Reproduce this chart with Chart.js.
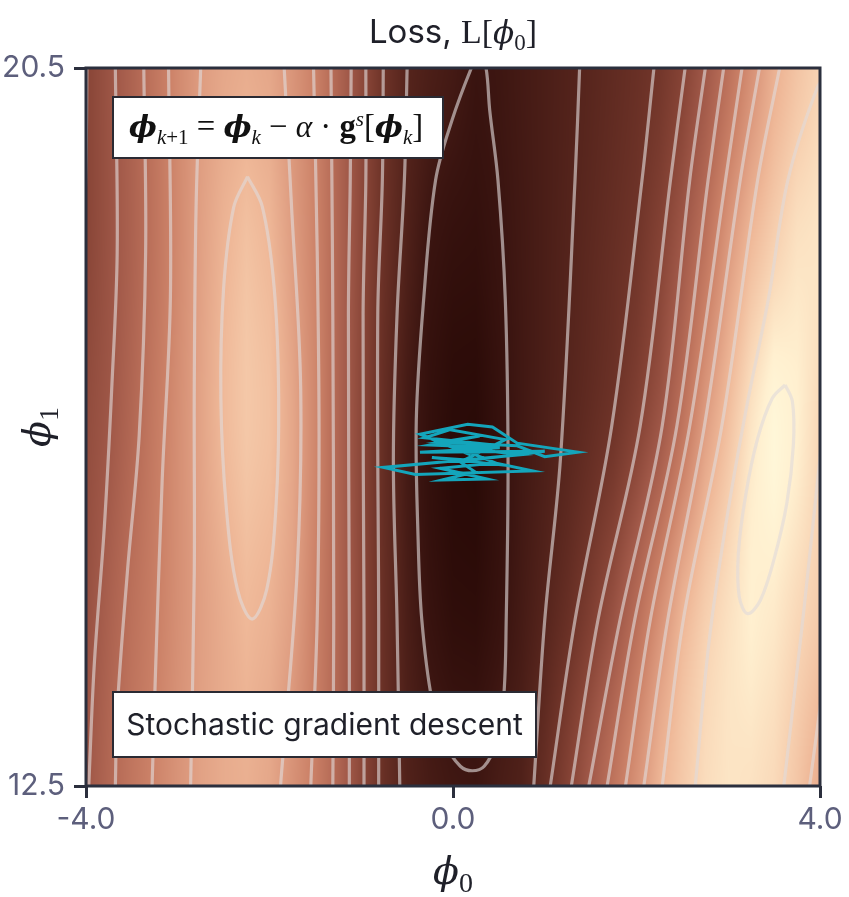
<!DOCTYPE html>
<html><head><meta charset="utf-8">
<script src="https://cdn.jsdelivr.net/npm/chart.js@4.4.1/dist/chart.umd.min.js"></script>
<style>html,body{margin:0;padding:0;background:#fff;}canvas{display:block;}</style>
</head><body>
<canvas id="c" width="849" height="897"></canvas>
<script>
// ---------- data ----------
const X_TICKS = [-4, 0, 4];
const Y_TICKS = [12.5, 20.5];
const PHI0_GRID = [-4.0,-3.75,-3.5,-3.25,-3.0,-2.75,-2.5,-2.25,-2.0,-1.75,-1.5,-1.25,-1.0,-0.75,-0.5,-0.25,0.0,0.25,0.5,0.75,1.0,1.25,1.5,1.75,2.0,2.25,2.5,2.75,3.0,3.25,3.5,3.75,4.0];
const PHI1_GRID = [20.5, 18.5, 16.5, 14.5, 12.5];
// loss level (contour-level units) along phi0 at each phi1 row
const LOSS_AT_20_5 = [4.0,4.76,5.57,6.43,7.28,8.0,8.4,8.6,8.4,7.72,6.92,5.63,4.32,2.95,2.0,1.64,1.36,0.97,1.12,1.37,1.62,1.87,2.14,2.45,2.77,3.18,3.92,5.01,6.23,7.54,8.72,9.43,10.0];
const LOSS_AT_18_5 = [4.05,4.75,5.52,6.37,7.30,8.15,8.85,9.35,9.0,8.05,7.05,5.67,4.24,2.82,1.77,0.98,0.7,0.62,0.95,1.29,1.62,1.95,2.31,2.68,3.10,3.9,5.0,6.35,7.87,9.1,9.9,10.5,10.6];
const LOSS_AT_16_5 = [4.4,4.95,5.77,6.64,7.46,8.25,9.05,9.55,9.3,8.4,7.2,5.65,4.12,2.59,1.4,0.65,0.25,0.2,0.75,1.25,1.67,2.09,2.56,3.06,3.88,4.9,6.4,8.07,9.3,10.6,11.5,11.0,10.1];
const LOSS_AT_14_5 = [4.6,5.43,6.2,6.82,7.5,8.1,8.6,9.05,8.8,8.15,6.95,5.7,4.2,2.7,1.6,0.85,0.45,0.4,0.85,1.4,1.98,2.7,3.6,4.62,5.94,7.4,8.8,9.75,10.4,11.0,10.8,10.2,9.7];
const LOSS_AT_12_5 = [4.9,5.75,6.45,7.07,7.67,8.2,8.55,8.7,8.4,7.6,6.8,5.67,4.18,2.75,1.85,1.45,1.2,1.1,1.5,1.8,2.67,3.84,5.1,6.37,7.6,8.86,9.6,10.3,10.6,10.5,10.2,9.5,8.6];

// contour lines [phi0, phi1]
const CONTOUR_CENTER_1 = [[0.29,20.68],[0.20,20.5],[-0.01,19.92],[-0.19,19.25],[-0.32,17.92],[-0.40,16.58],[-0.38,15.24],[-0.34,14.35],[-0.23,13.46],[-0.08,12.96],[0.08,12.72],[0.21,12.67],[0.34,12.72],[0.46,12.96],[0.55,13.46],[0.58,14.35],[0.60,16.13],[0.57,17.92],[0.49,19.25],[0.40,20.03],[0.36,20.5],[0.29,20.68]];
const CONTOUR_L2 = [[-0.50,20.5],[-0.53,19.25],[-0.61,17.75],[-0.65,16.13],[-0.61,14.35],[-0.58,12.5]];
const CONTOUR_L3 = [[-0.76,20.5],[-0.77,19.25],[-0.82,17.75],[-0.81,14.35],[-0.81,12.5]];
const CONTOUR_L4 = [[-0.95,20.5],[-0.95,19.25],[-0.98,17.75],[-0.97,14.35],[-0.97,12.5]];
const CONTOUR_L5 = [[-1.11,20.5],[-1.12,19.25],[-1.14,17.75],[-1.13,14.35],[-1.13,12.5]];
const CONTOUR_L6 = [[-1.33,20.5],[-1.32,19.25],[-1.31,17.75],[-1.30,14.35],[-1.31,12.5]];
const CONTOUR_L7 = [[-1.52,20.5],[-1.48,18.45],[-1.46,16.41],[-1.48,14.36],[-1.55,12.5]];
const CONTOUR_L8 = [[-1.84,20.5],[-1.76,18.96],[-1.66,16.92],[-1.70,14.87],[-1.88,12.5]];
const CONTOUR_PEAK_LEFT_9 = [[-2.24,19.29],[-2.08,18.96],[-1.95,18.06],[-1.90,16.83],[-1.93,15.60],[-2.03,14.69],[-2.19,14.36],[-2.35,14.69],[-2.47,15.59],[-2.53,16.82],[-2.50,18.05],[-2.39,18.95],[-2.24,19.29]];
const CONTOUR_FL8 = [[-2.75,20.5],[-2.80,18.96],[-2.82,16.92],[-2.82,14.87],[-2.86,12.5]];
const CONTOUR_FL7 = [[-3.10,20.5],[-3.08,17.95],[-3.17,15.90],[-3.24,13.85],[-3.28,12.5]];
const CONTOUR_FL6 = [[-3.37,20.5],[-3.35,18.45],[-3.42,16.41],[-3.55,14.87],[-3.66,13.34],[-3.68,12.5]];
const CONTOUR_FL5 = [[-3.68,20.5],[-3.66,18.45],[-3.72,16.92],[-3.80,15.39],[-3.91,13.85],[-3.97,12.5]];
const CONTOUR_FL4 = [[-3.99,20.5],[-4.0,19.48],[-4.03,18.36],[-4.07,17.6]];
const CONTOUR_R2 = [[1.38,20.5],[1.33,19.25],[1.17,16.13],[1.00,14.35],[0.88,12.5]];
const CONTOUR_R3 = [[2.19,20.5],[2.06,19.25],[1.73,16.51],[1.33,14.35],[1.06,12.5]];
const CONTOUR_R4 = [[2.53,20.5],[2.37,19.25],[2.04,16.51],[1.58,14.35],[1.29,12.5]];
const CONTOUR_R5 = [[2.75,20.5],[2.58,19.25],[2.28,16.51],[1.82,14.35],[1.48,12.5]];
const CONTOUR_R6 = [[2.95,20.5],[2.78,19.25],[2.44,16.51],[1.98,14.35],[1.68,12.5]];
const CONTOUR_R7 = [[3.15,20.5],[2.97,19.25],[2.58,16.51],[2.15,14.35],[1.88,12.5]];
const CONTOUR_R8 = [[3.34,20.5],[3.13,19.25],[2.74,16.51],[2.34,14.35],[2.08,12.5]];
const CONTOUR_R9 = [[3.56,20.5],[3.32,19.25],[2.93,16.51],[2.51,14.35],[2.28,12.5]];
const CONTOUR_R10 = [[4.10,20.45],[3.97,20.28],[3.65,19.25],[3.44,17.94],[3.19,16.67],[2.97,15.39],[2.79,14.10],[2.64,12.5]];
const CONTOUR_R10_EDGE = [[4.02,16.36],[3.82,14.42],[3.60,12.45]];
const CONTOUR_R9_EDGE = [[4.03,13.6],[3.88,12.45]];
const CONTOUR_PEAK_RIGHT_11 = [[3.62,16.97],[3.70,16.78],[3.71,16.30],[3.64,15.66],[3.50,15.03],[3.35,14.57],[3.21,14.42],[3.12,14.61],[3.11,15.09],[3.19,15.74],[3.32,16.37],[3.48,16.82],[3.62,16.97]];

const CONTOUR_LINES = [CONTOUR_CENTER_1, CONTOUR_L2, CONTOUR_L3, CONTOUR_L4, CONTOUR_L5, CONTOUR_L6, CONTOUR_L7, CONTOUR_L8,
  CONTOUR_PEAK_LEFT_9, CONTOUR_FL8, CONTOUR_FL7, CONTOUR_FL6, CONTOUR_FL5, CONTOUR_FL4,
  CONTOUR_R2, CONTOUR_R3, CONTOUR_R4, CONTOUR_R5, CONTOUR_R6, CONTOUR_R7, CONTOUR_R8, CONTOUR_R9,
  CONTOUR_R10, CONTOUR_R10_EDGE, CONTOUR_R9_EDGE, CONTOUR_PEAK_RIGHT_11];

// stochastic gradient descent trajectory [phi0, phi1]
const SGD_PATH = [[0.19,16.19],[-0.36,16.42],[0.16,16.53],[0.43,16.50],[0.70,16.32],[1.36,16.22],[1.00,16.17],[0.70,16.29],[-0.14,16.33],[0.29,16.40],[-0.25,16.30],[0.51,16.27],[-0.36,16.22],[1.00,16.23],[0.19,16.13],[-0.23,16.16],[0.51,16.08],[0.02,16.28],[0.73,16.19],[-0.76,16.05],[-0.41,15.97],[0.87,16.01],[0.46,16.10],[-0.14,16.04],[0.37,15.92],[-0.12,15.91],[0.24,16.00],[0.08,16.11],[0.57,16.36],[-0.03,16.47],[-0.31,16.38],[0.35,16.31],[0.10,16.22]];

const TITLE_TEXT = 'Loss, ';
const BOX_LABEL = 'Stochastic gradient descent';

// ---------- rendering helpers ----------
const LOSS_ROWS = [LOSS_AT_20_5, LOSS_AT_18_5, LOSS_AT_16_5, LOSS_AT_14_5, LOSS_AT_12_5];
const LEVEL_COLORS = ['#260805','#3a1410','#55241c','#6e3328','#874436','#a05848','#b76c57','#cc8268','#de9c80','#efb898','#f8d4b4','#fff0d0','#fffde0'];
const LC = LEVEL_COLORS.map(h => [parseInt(h.slice(1,3),16), parseInt(h.slice(3,5),16), parseInt(h.slice(5,7),16)]);
function colorFor(v) {
  v = Math.max(0, Math.min(LC.length - 1.0001, v));
  const i = Math.floor(v), f = v - i, a = LC[i], b = LC[i+1];
  return [a[0]+(b[0]-a[0])*f, a[1]+(b[1]-a[1])*f, a[2]+(b[2]-a[2])*f];
}

const heatmapPlugin = {
  id: 'heatmap',
  beforeDatasetsDraw(chart) {
    const {ctx, chartArea: a, scales: {x, y}} = chart;
    const w = Math.round(a.right - a.left), h = Math.round(a.bottom - a.top);
    const off = document.createElement('canvas');
    off.width = w; off.height = h;
    const octx = off.getContext('2d');
    const img = octx.createImageData(w, h);
    const nR = PHI1_GRID.length, nC = PHI0_GRID.length;
    const colVals = LOSS_ROWS.map(() => new Float32Array(w));
    for (let i = 0; i < w; i++) {
      const p0 = x.getValueForPixel(a.left + i + 0.5);
      let c = 0;
      while (c < nC - 2 && p0 > PHI0_GRID[c+1]) c++;
      let f = (p0 - PHI0_GRID[c]) / (PHI0_GRID[c+1] - PHI0_GRID[c]);
      f = Math.max(0, Math.min(1, f));
      for (let r = 0; r < nR; r++) colVals[r][i] = LOSS_ROWS[r][c] + (LOSS_ROWS[r][c+1] - LOSS_ROWS[r][c]) * f;
    }
    for (let j = 0; j < h; j++) {
      const p1 = y.getValueForPixel(a.top + j + 0.5);
      let k = 0;
      while (k < nR - 2 && p1 < PHI1_GRID[k+1]) k++;
      let t = (PHI1_GRID[k] - p1) / (PHI1_GRID[k] - PHI1_GRID[k+1]);
      t = Math.max(0, Math.min(1, t));
      const r0 = colVals[Math.max(0, k-1)], r1 = colVals[k], r2 = colVals[k+1], r3 = colVals[Math.min(nR-1, k+2)];
      const t2 = t*t, t3 = t2*t;
      for (let i = 0; i < w; i++) {
        const P0 = r0[i], P1 = r1[i], P2 = r2[i], P3 = r3[i];
        const v = 0.5*((2*P1) + (-P0+P2)*t + (2*P0-5*P1+4*P2-P3)*t2 + (-P0+3*P1-3*P2+P3)*t3);
        const col = colorFor(v);
        const idx = (j*w + i)*4;
        img.data[idx] = col[0]; img.data[idx+1] = col[1]; img.data[idx+2] = col[2]; img.data[idx+3] = 255;
      }
    }
    octx.putImageData(img, 0, 0);
    ctx.save();
    ctx.drawImage(off, a.left, a.top, a.right - a.left, a.bottom - a.top);
    ctx.restore();
  }
};

function measureRuns(ctx, runs) {
  let W = 0;
  runs.forEach(r => { ctx.font = r.f; r.w = ctx.measureText(r.t).width; W += r.w; });
  return W;
}
function drawRuns(ctx, runs, cx, baseline) {
  const W = measureRuns(ctx, runs);
  let xx = cx - W/2;
  runs.forEach(r => { ctx.font = r.f; ctx.fillText(r.t, xx, baseline + (r.dy || 0)); xx += r.w; });
  return W;
}

const SERIF = '"DejaVu Serif"';
const ROMAN = '"Liberation Serif", "DejaVu Serif"';
function eqRuns(S) {
  const s = Math.round(S * 0.7);
  const sub = S * 0.22, sup = -S * 0.38;
  return [
    {t: 'ϕ', f: 'bold italic ' + S + 'px ' + SERIF},
    {t: 'k', f: 'italic ' + s + 'px ' + ROMAN, dy: sub},
    {t: '+1', f: s + 'px ' + ROMAN, dy: sub},
    {t: ' = ', f: (S*1.1) + 'px ' + ROMAN},
    {t: 'ϕ', f: 'bold italic ' + S + 'px ' + SERIF},
    {t: 'k', f: 'italic ' + s + 'px ' + ROMAN, dy: sub},
    {t: ' − ', f: (S*1.1) + 'px ' + ROMAN},
    {t: 'α', f: 'italic ' + (S*1.05) + 'px ' + ROMAN},
    {t: ' · ', f: (S*1.1) + 'px ' + ROMAN},
    {t: 'g', f: 'bold ' + (S*1.1) + 'px ' + ROMAN},
    {t: 's', f: 'italic ' + s + 'px ' + ROMAN, dy: sup},
    {t: '[', f: (S*1.1) + 'px ' + ROMAN},
    {t: 'ϕ', f: 'bold italic ' + S + 'px ' + SERIF},
    {t: 'k', f: 'italic ' + s + 'px ' + ROMAN, dy: sub},
    {t: ']', f: (S*1.1) + 'px ' + ROMAN}
  ];
}

const decorPlugin = {
  id: 'decor',
  afterDatasetsDraw(chart) {
    const {ctx, chartArea: a} = chart;
    ctx.save();
    ctx.strokeStyle = '#2b2f3d';
    ctx.lineWidth = 3;
    ctx.strokeRect(a.left, a.top, a.right - a.left, a.bottom - a.top);
    ctx.restore();
  },
  afterDraw(chart) {
    const {ctx, chartArea: a} = chart;
    const cx = (a.left + a.right) / 2;
    ctx.save();
    ctx.textAlign = 'left';
    ctx.textBaseline = 'alphabetic';
    // title
    ctx.fillStyle = '#1f2029';
    drawRuns(ctx, [
      {t: TITLE_TEXT, f: '33px Inter'},
      {t: 'L[', f: '34px ' + ROMAN},
      {t: 'ϕ', f: 'italic 31px ' + SERIF},
      {t: '0', f: '23px ' + ROMAN, dy: 7},
      {t: ']', f: '34px ' + ROMAN}
    ], cx, 43);
    // x-axis label
    drawRuns(ctx, [
      {t: 'ϕ', f: 'italic 38px ' + SERIF},
      {t: '0', f: '28px ' + ROMAN, dy: 8}
    ], cx, 884);
    // y-axis label (rotated)
    ctx.save();
    ctx.translate(50, (a.top + a.bottom) / 2);
    ctx.rotate(-Math.PI / 2);
    drawRuns(ctx, [
      {t: 'ϕ', f: 'italic 38px ' + SERIF},
      {t: '1', f: '28px ' + ROMAN, dy: 8}
    ], 0, 0);
    ctx.restore();

    // equation box
    const bx = a.left + 27, by = a.top + 29, bw = 330, bh = 61;
    ctx.fillStyle = '#ffffff';
    ctx.fillRect(bx, by, bw, bh);
    ctx.strokeStyle = '#2a2a33';
    ctx.lineWidth = 2;
    ctx.strokeRect(bx, by, bw, bh);
    ctx.fillStyle = '#111';
    let S = 30;
    const w0 = measureRuns(ctx, eqRuns(S));
    S = S * 294 / w0;
    drawRuns(ctx, eqRuns(S), bx + bw/2 - 2, by + 40);

    // method box
    const mx = a.left + 27, my = a.top + 624, mw = 423, mh = 65;
    ctx.fillStyle = '#ffffff';
    ctx.fillRect(mx, my, mw, mh);
    ctx.strokeStyle = '#2a2a33';
    ctx.lineWidth = 2;
    ctx.strokeRect(mx, my, mw, mh);
    ctx.fillStyle = '#1f2029';
    ctx.font = '30px Inter';
    ctx.textAlign = 'center';
    ctx.fillText(BOX_LABEL, mx + mw/2, my + 43);
    ctx.restore();
  }
};

const datasets = [{
  data: SGD_PATH, showLine: true, borderColor: '#14a5bb', borderWidth: 3,
  pointRadius: 0, tension: 0, fill: false, clip: 0, order: 0
}].concat(CONTOUR_LINES.map(pts => ({
  data: pts, showLine: true, borderColor: 'rgba(224,218,218,0.62)', borderWidth: 3.2,
  pointRadius: 0, tension: 0.35, fill: false, clip: 0, order: 1
})));

const tickFont = {family: 'Inter', size: 30};
const tickColor = '#5d5f7c';
new Chart(document.getElementById('c'), {
  type: 'scatter',
  data: {datasets},
  plugins: [heatmapPlugin, decorPlugin],
  options: {
    responsive: false, animation: false, events: [],
    layout: {padding: {left: 0, right: 29, top: 68, bottom: 0}},
    plugins: {legend: {display: false}, tooltip: {enabled: false}, title: {display: false}},
    scales: {
      x: {
        type: 'linear', min: -4, max: 4,
        afterBuildTicks: sc => { sc.ticks = X_TICKS.map(v => ({value: v})); },
        afterFit: sc => { sc.height = 111; },
        ticks: {font: tickFont, color: tickColor, padding: 4, maxRotation: 0, autoSkip: false,
                callback: v => Number(v).toFixed(1)},
        grid: {display: true, drawOnChartArea: false, drawTicks: true, tickLength: 12, color: '#2b2f3d', lineWidth: 3},
        border: {display: false}
      },
      y: {
        type: 'linear', min: 12.5, max: 20.5,
        afterBuildTicks: sc => { sc.ticks = Y_TICKS.map(v => ({value: v})); },
        afterFit: sc => { sc.width = 86; },
        ticks: {font: tickFont, color: tickColor, padding: 9, autoSkip: false,
                callback: v => Number(v).toFixed(1)},
        grid: {display: true, drawOnChartArea: false, drawTicks: true, tickLength: 12, color: '#2b2f3d', lineWidth: 3},
        border: {display: false}
      }
    }
  }
});
</script>
</body></html>
